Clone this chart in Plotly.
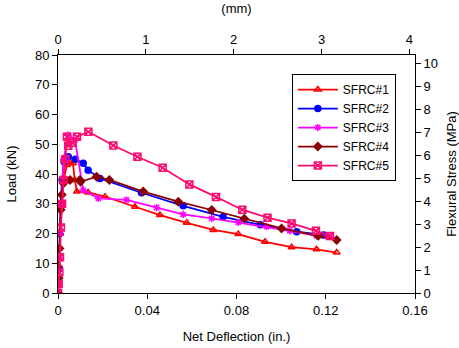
import plotly.graph_objects as go

# Net deflection (in.) and load (kN)
s1_x = [0, 0.0003, 0.0006, 0.0010, 0.0015, 0.0025, 0.0040, 0.0054, 0.0067, 0.0075, 0.0085, 0.0135, 0.0211, 0.0345, 0.0457, 0.0577, 0.0696, 0.0808, 0.0928, 0.1047, 0.1159, 0.1249]
s1_y = [0, 3, 9, 20, 30, 38, 43, 44.1, 43.6, 38, 34.1, 33.8, 32.4, 29, 26.2, 23.6, 21.2, 19.8, 17.2, 15.4, 14.7, 13.6]

s2_x = [0, 0.0003, 0.0007, 0.0012, 0.0018, 0.0027, 0.0046, 0.0078, 0.0113, 0.0135, 0.0188, 0.0374, 0.0561, 0.0740, 0.0907, 0.1070, 0.1190]
s2_y = [0, 8, 20, 30, 38, 44.1, 45.8, 45.0, 43.6, 41.3, 38.5, 33.7, 29.3, 25.6, 22.9, 20.6, 19.5]

s3_x = [0, 0.0003, 0.0006, 0.0010, 0.0015, 0.0025, 0.0046, 0.0076, 0.0113, 0.0181, 0.0307, 0.0442, 0.0561, 0.0689, 0.0808, 0.0935, 0.1039, 0.1159, 0.1220]
s3_y = [0, 4, 12, 20, 30, 45, 53.1, 51.4, 34.6, 31.8, 31.3, 28.7, 26.4, 25.1, 23.7, 22.3, 20.9, 19.2, 18.9]

s4_x = [0, 0.0003, 0.0007, 0.0012, 0.0017, 0.0025, 0.0054, 0.0098, 0.0101, 0.0173, 0.0230, 0.0382, 0.0539, 0.0689, 0.0835, 0.1002, 0.1166, 0.1249]
s4_y = [0, 5, 15, 28, 33, 36.9, 38, 38, 37.4, 39.1, 38, 34.1, 30.7, 27.9, 25.0, 21.7, 19.2, 17.8]

s5_x = [0, 0.0003, 0.0006, 0.0009, 0.0013, 0.0018, 0.0025, 0.0033, 0.0040, 0.0046, 0.0065, 0.0085, 0.0136, 0.0248, 0.0356, 0.0469, 0.0589, 0.0708, 0.0826, 0.0939, 0.1047, 0.1156, 0.1219]
s5_y = [0, 3, 7, 12, 22, 30, 38, 45, 52.5, 49.5, 50.5, 52.5, 54.2, 49.6, 45.8, 42.1, 36.5, 32.3, 28.0, 25.3, 23.4, 20.9, 19.2]

x_ticks = [0, 0.04, 0.08, 0.12, 0.16]
x_ticktext = ["0", "0.04", "0.08", "0.12", "0.16"]
mm_ticks = [0, 1, 2, 3, 4]
load_ticks = [0, 10, 20, 30, 40, 50, 60, 70, 80]
stress_ticks = [0, 1, 2, 3, 4, 5, 6, 7, 8, 9, 10]

series = [
    ("SFRC#1", s1_x, s1_y, "#ff0000", "triangle-up-open", 6),
    ("SFRC#2", s2_x, s2_y, "#0000ff", "circle", 6),
    ("SFRC#3", s3_x, s3_y, "#ff00ff", "asterisk-open", 6),
    ("SFRC#4", s4_x, s4_y, "#8b0000", "diamond", 6),
    ("SFRC#5", s5_x, s5_y, "#ff0a6e", "square-x-open", 7),
]

FONT = "Liberation Sans, Arial, Helvetica, sans-serif"
fig = go.Figure()
for name, xs, ys, col, sym, sz in series:
    fig.add_trace(go.Scatter(
        x=xs, y=ys, name=name, mode="lines+markers",
        line=dict(color=col, width=1.8),
        marker=dict(symbol=sym, size=sz, color=col, line=dict(color=col, width=1.5)),
    ))

# empty trace so the secondary (mm / MPa) axes are drawn
fig.add_trace(go.Scatter(x=[None], y=[None], xaxis="x2", yaxis="y2",
                         showlegend=False, hoverinfo="skip"))

axis_common = dict(
    showline=True, linecolor="black", linewidth=1, ticks="outside", ticklen=5,
    tickcolor="black", showgrid=False, zeroline=False, automargin=False,
    tickfont=dict(family=FONT, size=13, color="black"),
)

fig.update_layout(
    width=459, height=348,
    margin=dict(l=58, r=44, t=55, b=55),
    paper_bgcolor="white", plot_bgcolor="white",
    font=dict(family=FONT, size=13, color="black"),
    xaxis=dict(range=[0, 0.16], tickvals=x_ticks, ticktext=x_ticktext,
               title=dict(text="Net Deflection (in.)", font=dict(size=13)), **axis_common),
    xaxis2=dict(range=[0, 0.16 * 25.4], tickvals=mm_ticks, overlaying="x", side="top",
                anchor="y", title=dict(text="(mm)", font=dict(size=13)), **axis_common),
    yaxis=dict(range=[0, 80], tickvals=load_ticks,
               title=dict(text="Load (kN)", font=dict(size=13)), **axis_common),
    yaxis2=dict(range=[0, 10.35], tickvals=stress_ticks, overlaying="y", side="right",
                anchor="x", title=dict(text="Flexural Stress (MPa)", font=dict(size=13)), **axis_common),
    legend=dict(x=0.655, y=0.92, xanchor="left", yanchor="top",
                bgcolor="white", bordercolor="black", borderwidth=1,
                font=dict(family=FONT, size=12, color="black"),
                tracegroupgap=0, itemwidth=40),
    showlegend=True,
)

fig.write_html("out.html", config={"displayModeBar": False},
               post_script="document.body.style.margin='0';")
